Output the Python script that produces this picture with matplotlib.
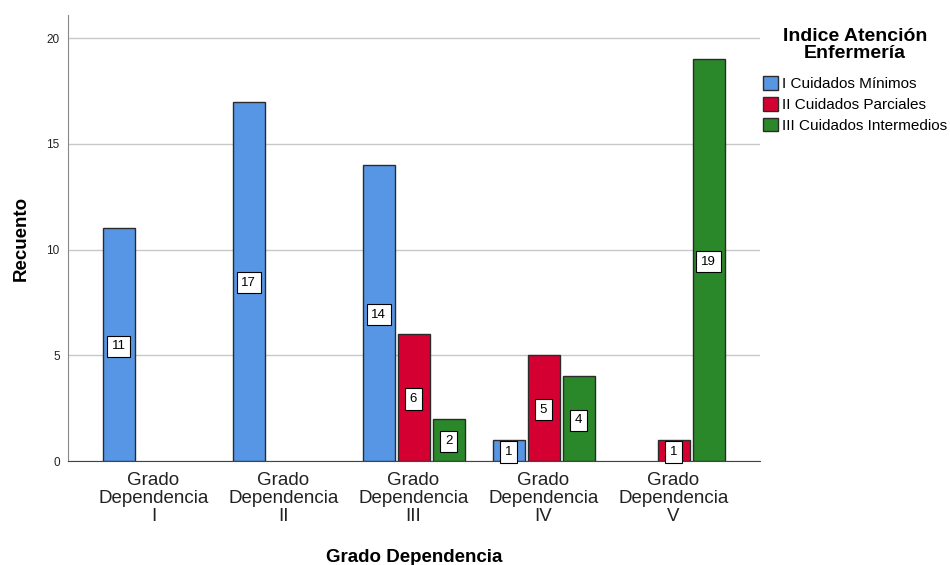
import numpy as np
from matplotlib import pyplot as plt

plt.rcParams['font.family'] = ['Liberation Sans', 'DejaVu Sans']

grados = ['Grado\nDependencia\nI', 'Grado\nDependencia\nII', 'Grado\nDependencia\nIII',
          'Grado\nDependencia\nIV', 'Grado\nDependencia\nV']
series = ['I Cuidados Mínimos', 'II Cuidados Parciales', 'III Cuidados Intermedios']
minimos = [11, 17, 14, 1, 0]
parciales = [0, 0, 6, 5, 1]
intermedios = [0, 0, 2, 4, 19]
colores = ['#5796E4', '#D50032', '#2A882A']

fig = plt.figure(figsize=(9.5, 5.65), dpi=100)
ax = fig.add_axes([0.0716, 0.184, 0.7284, 0.7894])

x = np.arange(len(grados))
ancho = 0.246
paso = 0.269

for i, (vals, nombre, color) in enumerate(zip([minimos, parciales, intermedios], series, colores)):
    pos = x + (i - 1) * paso
    for p, v in zip(pos, vals):
        if v == 0:
            continue
        ax.bar(p, v, width=ancho, color=color, edgecolor='#2b2b2b', linewidth=1, zorder=3)
        ax.text(p, v / 2, str(v), ha='center', va='center_baseline', fontsize=9.5, zorder=4,
                bbox=dict(boxstyle='square,pad=0.35', facecolor='white', edgecolor='black', linewidth=0.8))
    # entrada de leyenda
    ax.bar(0, 0, width=0, color=color, edgecolor='#2b2b2b', linewidth=1, label=nombre)

ax.set_xlim(-0.658, 4.665)
ax.set_ylim(0, 21.09)
ax.set_yticks([0, 5, 10, 15, 20])
ax.yaxis.grid(True, color='#c8c8c8', linewidth=1, zorder=0)
ax.set_axisbelow(True)

ax.set_xticks(x)
ax.set_xticklabels(grados, fontsize=13.5, linespacing=1.08)
ax.tick_params(axis='x', length=0, pad=8, colors='#222222')
ax.tick_params(axis='y', length=0, pad=6, labelsize=8.5, colors='#222222')

for s in ['top', 'right']:
    ax.spines[s].set_visible(False)
ax.spines['left'].set_color('#888888')
ax.spines['bottom'].set_color('#444444')

ax.set_ylabel('Recuento', fontsize=13.5, fontweight='bold', labelpad=12)
ax.set_xlabel('Grado Dependencia', fontsize=13.5, fontweight='bold', labelpad=17)

# título de la leyenda aparte, centrado
fig.text(855 / 950, 1 - 45 / 565, 'Indice Atención\nEnfermería', ha='center', va='center',
         multialignment='center', fontsize=14, fontweight='bold', linespacing=1.0)
leg = ax.legend(loc='upper left', bbox_to_anchor=(763 / 950, 1 - 76 / 565),
                bbox_transform=fig.transFigure, frameon=False, fontsize=11,
                handlelength=0.95, handleheight=1.0, handletextpad=0.3,
                labelspacing=0.38, borderaxespad=0, borderpad=0)

plt.savefig('out.png', dpi=100)
